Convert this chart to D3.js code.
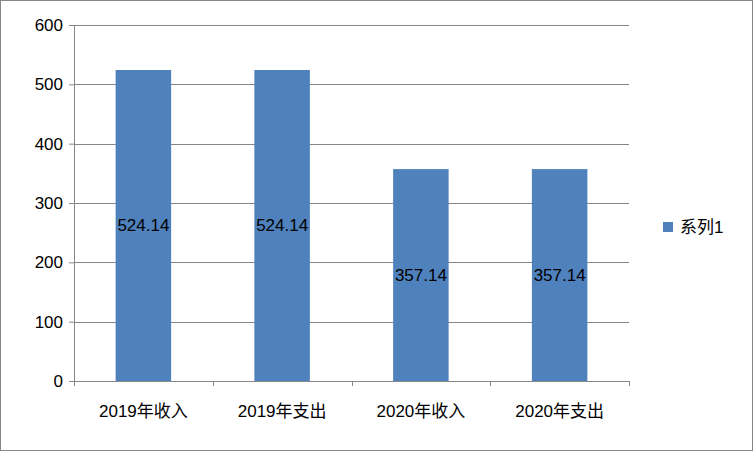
<!DOCTYPE html>
<html>
<head>
<meta charset="utf-8">
<script src="https://cdn.jsdelivr.net/npm/d3@7"></script>
<style>
  body { margin: 0; background: #fff; }
  text { font-family: "Liberation Sans", "Noto Sans CJK SC", sans-serif; }
</style>
</head>
<body>
<div class="svg_container"></div>
<script>
var categories = ["2019年收入", "2019年支出", "2020年收入", "2020年支出"];
var values = [524.14, 524.14, 357.14, 357.14];
var yTicks = [0, 100, 200, 300, 400, 500, 600];
var seriesName = "系列1";

var W = 753, H = 451;
var margin = { top: 25, left: 74, right: 124, bottom: 70 };
var width = W - margin.left - margin.right,
  height = H - margin.top - margin.bottom;

var svg = d3.select(".svg_container").append("svg")
  .attr("width", W).attr("height", H);

// outer border
svg.append("rect")
  .attr("x", 0.5).attr("y", 0.5)
  .attr("width", W - 1).attr("height", H - 1)
  .attr("fill", "#fff").attr("stroke", "#868686");

var g = svg.append("g")
  .attr("transform", "translate(" + margin.left + "," + margin.top + ")");

var x = d3.scaleBand().domain(categories).range([0, width]).paddingInner(0.6).paddingOuter(0.3);
var xb = d3.scaleBand().domain(categories).range([0, width]);
var y = d3.scaleLinear().domain([0, 600]).range([height, 0]);

// gridlines
g.selectAll(".grid").data(yTicks).enter().append("line")
  .attr("x1", 0).attr("x2", width)
  .attr("y1", function(d) { return Math.round(y(d)) + 0.5; })
  .attr("y2", function(d) { return Math.round(y(d)) + 0.5; })
  .attr("stroke", "#868686").attr("stroke-width", 1);

// y axis
var ya = g.append("g").call(d3.axisLeft(y).tickValues(yTicks).tickSize(5).tickPadding(6));
ya.select(".domain").attr("stroke", "#868686");
ya.selectAll(".tick line").attr("stroke", "#868686");
ya.selectAll("text").attr("font-size", 17).attr("fill", "#000");

// bars
g.selectAll(".bar").data(values).enter().append("rect")
  .attr("x", function(d, i) { return x(categories[i]); })
  .attr("width", x.bandwidth())
  .attr("y", function(d) { return y(d); })
  .attr("height", function(d) { return height - y(d); })
  .attr("fill", "#4f81bd");

// value labels
g.selectAll(".lbl").data(values).enter().append("text")
  .attr("x", function(d, i) { return x(categories[i]) + x.bandwidth() / 2; })
  .attr("y", function(d) { return y(d / 2); })
  .attr("dy", "0.35em")
  .attr("text-anchor", "middle")
  .attr("font-size", 17)
  .text(function(d) { return d.toFixed(2); });

// x axis
var xa = g.append("g").attr("transform", "translate(0," + height + ")")
  .call(d3.axisBottom(xb).tickSize(0).tickPadding(24));
xa.select(".domain").attr("stroke", "#868686");
xa.selectAll("text").attr("font-size", 17).attr("fill", "#000");
var bounds = [0].concat(categories.map(function(c) { return xb(c) + xb.bandwidth(); }));
g.selectAll(".xt").data(bounds).enter().append("line")
  .attr("x1", function(d) { return Math.round(d) + 0.5; })
  .attr("x2", function(d) { return Math.round(d) + 0.5; })
  .attr("y1", height).attr("y2", height + 5)
  .attr("stroke", "#868686");

// legend
var lg = svg.append("g").attr("transform", "translate(663,222)");
lg.append("rect").attr("width", 10).attr("height", 10).attr("fill", "#4f81bd");
lg.append("text").attr("x", 17).attr("y", 5).attr("dy", "0.35em")
  .attr("font-size", 17).text(seriesName);
</script>
</body>
</html>
